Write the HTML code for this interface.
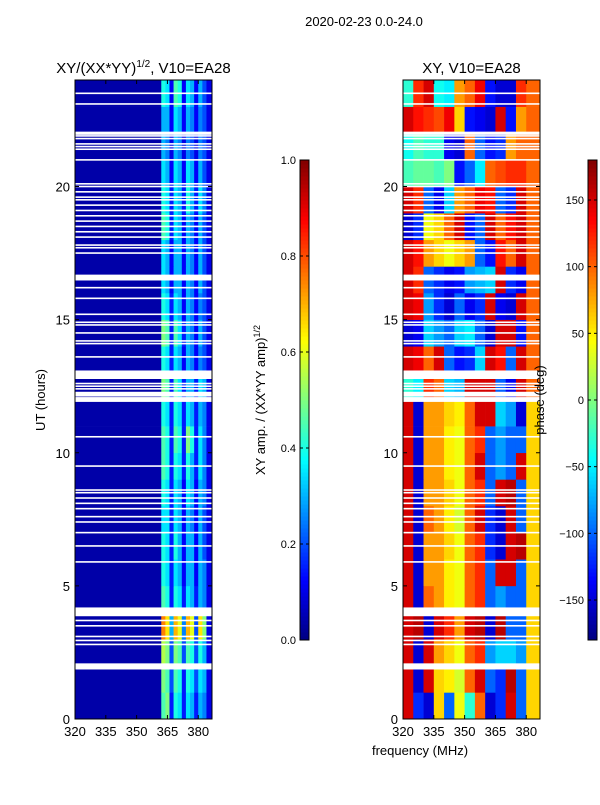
<!DOCTYPE html>
<html><head><meta charset="utf-8"><style>
body{margin:0;background:#fff;}
svg{font-family:"Liberation Sans",sans-serif;}
</style></head><body>
<svg id="fig" width="600" height="800"></svg>
<script>
const ampFreqEdges=[320,362,364,366,368,370,372,374,376,378,380,382,384];
const ampRows=[
[0.04,0.45,0.5,0.15,0.4,0.35,0.15,0.35,0.3,0.15,0.3,0.25,0.1],
[0.04,0.5,0.45,0.2,0.45,0.4,0.15,0.4,0.35,0.2,0.35,0.3,0.1],
[0.04,0.55,0.5,0.2,0.5,0.45,0.2,0.45,0.4,0.2,0.4,0.3,0.1],
[0.04,0.75,0.65,0.3,0.7,0.6,0.25,0.7,0.6,0.2,0.65,0.5,0.1],
[0.04,0.45,0.4,0.15,0.4,0.35,0.15,0.35,0.3,0.15,0.3,0.25,0.1],
[0.04,0.4,0.35,0.15,0.35,0.3,0.12,0.3,0.3,0.12,0.3,0.25,0.1],
[0.04,0.4,0.35,0.15,0.4,0.3,0.12,0.3,0.3,0.12,0.3,0.2,0.1],
[0.04,0.35,0.35,0.15,0.35,0.3,0.12,0.3,0.25,0.12,0.3,0.2,0.1],
[0.04,0.4,0.35,0.15,0.35,0.3,0.12,0.35,0.3,0.12,0.3,0.25,0.1],
[0.04,0.45,0.4,0.15,0.4,0.35,0.15,0.4,0.3,0.15,0.35,0.25,0.1],
[0.04,0.45,0.4,0.15,0.45,0.4,0.15,0.5,0.4,0.15,0.35,0.25,0.1],
[0.04,0.4,0.35,0.15,0.4,0.35,0.15,0.35,0.3,0.15,0.3,0.25,0.1],
[0.04,0.5,0.45,0.15,0.45,0.35,0.15,0.3,0.3,0.15,0.35,0.3,0.1],
[0.04,0.4,0.35,0.15,0.35,0.3,0.12,0.3,0.25,0.12,0.25,0.2,0.1],
[0.04,0.5,0.45,0.15,0.45,0.35,0.15,0.3,0.25,0.12,0.3,0.2,0.1],
[0.04,0.4,0.35,0.15,0.35,0.3,0.12,0.3,0.25,0.12,0.25,0.2,0.1],
[0.04,0.35,0.3,0.12,0.3,0.3,0.12,0.3,0.25,0.12,0.3,0.2,0.1],
[0.04,0.35,0.3,0.12,0.3,0.3,0.12,0.3,0.25,0.12,0.3,0.2,0.1],
[0.04,0.45,0.4,0.15,0.35,0.3,0.12,0.3,0.25,0.12,0.3,0.2,0.1],
[0.04,0.4,0.35,0.15,0.35,0.3,0.15,0.4,0.3,0.15,0.35,0.25,0.1],
[0.04,0.35,0.3,0.12,0.35,0.3,0.12,0.35,0.3,0.12,0.3,0.2,0.1],
[0.04,0.3,0.25,0.1,0.3,0.25,0.1,0.25,0.2,0.1,0.25,0.2,0.1],
[0.04,0.3,0.3,0.12,0.35,0.3,0.12,0.3,0.25,0.12,0.25,0.2,0.1],
[0.04,0.4,0.35,0.12,0.45,0.4,0.12,0.35,0.3,0.12,0.3,0.2,0.1]];
const phaseFreqEdges=[320,325,330,335,340,345,350,355,360,365,370,375,380];
const phaseRows=[
[150,-120,-150,60,-100,40,-30,100,-150,-120,150,-100,60],
[150,-150,150,60,50,30,100,150,-100,-120,160,-100,60],
[150,-150,150,80,60,40,100,120,-80,-60,-60,-80,60],
[150,160,-150,150,120,80,150,160,-150,160,-100,-100,60],
[150,-150,100,80,50,40,100,120,-100,-80,-100,-100,60],
[150,-150,80,80,50,40,100,120,-100,150,150,-100,60],
[150,-150,80,80,60,40,100,120,-120,-150,150,160,60],
[150,-150,100,80,50,30,100,150,-120,-150,150,-100,60],
[150,-150,80,80,60,40,100,120,-100,150,160,-100,60],
[150,-150,80,80,50,40,100,150,-100,-80,-100,150,60],
[150,-150,80,80,50,40,100,120,-100,-80,-100,-100,60],
[150,-150,80,80,60,50,100,150,150,-60,-80,-150,60],
[-30,-50,120,100,-60,-70,150,150,150,-100,-140,150,100],
[150,140,100,150,-100,-130,-120,-60,150,130,-100,150,100],
[-150,-140,-60,-80,-100,-60,-50,-100,-150,150,150,-130,100],
[150,140,-80,-120,-150,-100,-140,-120,150,-140,-150,150,100],
[150,120,-100,-120,-140,-130,-80,-70,-60,150,-120,-140,100],
[150,130,80,60,40,60,80,-100,-130,130,100,150,100],
[-150,-120,40,60,100,150,-130,-100,150,100,130,150,100],
[150,120,-100,-140,-60,80,100,140,130,-100,-120,150,100],
[-20,-10,-10,-20,0,-130,-100,-50,100,110,120,120,100],
[-40,-20,-30,-30,-140,-150,100,-100,-130,-120,80,100,100],
[150,130,120,110,140,60,-130,-140,-150,150,-130,80,100],
[-30,120,150,-40,-50,80,100,140,-130,-150,-150,120,100]];
const flagTimes=[23.5,23.1,22.0,21.9,21.8,21.6,21.5,21.4,21.0,20.1,20.0,19.8,19.6,19.5,19.3,19.1,18.9,18.7,18.5,18.3,18.1,17.8,17.7,17.5,16.6,16.5,16.2,15.8,15.2,14.9,14.8,14.5,14.2,14.1,13.6,13.0,12.9,12.8,12.6,12.5,12.4,12.2,12.0,10.6,9.5,8.6,8.5,8.3,8.1,7.9,7.6,7.4,7.0,6.5,5.9,4.1,3.95,3.7,3.5,3.1,2.95,2.8,2.0,1.95];
const flagWidths=[1,1,2,1,1,1,1,1,1,1,1,1,1,1,1,1,1,1,1,1,1,1,1,1,3,1,1,1,1,1,1,1,1,1,1,3,3,1,1,1,1,3,3,1,1,1,1,1,1,1,1,1,1,1,1,3,3,1,1,1,1,1,3,3];
const ampTicks=[0.0,0.2,0.4,0.6,0.8,1.0];
const phaseTicks=[-150,-100,-50,0,50,100,150];
const xTicks=[320,335,350,365,380];
const yTicks=[0,5,10,15,20];

const NS="http://www.w3.org/2000/svg";
const svg=document.getElementById('fig');
function mk(t,a,p){const e=document.createElementNS(NS,t);for(const k in a)e.setAttribute(k,a[k]);(p||svg).appendChild(e);return e;}
function jet(v){v=Math.max(0,Math.min(1,v));
 const r=Math.max(0,Math.min(1,Math.min(4*v-1.5,-4*v+4.5)));
 const g=Math.max(0,Math.min(1,Math.min(4*v-0.5,-4*v+3.5)));
 const b=Math.max(0,Math.min(1,Math.min(4*v+0.5,-4*v+2.5)));
 return `rgb(${Math.round(r*255)},${Math.round(g*255)},${Math.round(b*255)})`;}
const fMin=320,fMax=386.7,tMax=24;
function panel(x0,name,edges,rows,norm,title){
 const w=137,y0=80,h=639;
 const xs=f=>x0+(f-fMin)/(fMax-fMin)*w;
 const ys=t=>y0+h-(t/tMax)*h;
 const g=mk('g',{});
 
 
 rows.forEach((row,ti)=>{row.forEach((v,fi)=>{
  const fa=edges[fi],fb=fi+1<edges.length?edges[fi+1]:fMax;
  const r=mk('rect',{x:xs(fa),y:ys(ti+1),width:xs(fb)-xs(fa)+0.3,height:ys(ti)-ys(ti+1)+0.3,fill:jet(norm(v))},g);
  
  
 });});
 flagTimes.forEach((t,i)=>{
  const r=mk('rect',{x:x0,y:ys(t)-flagWidths[i]/2*1.6,width:w,height:flagWidths[i]*1.6,fill:'#fff'},g);
  
  
 });
 mk('rect',{x:x0,y:y0,width:w,height:h,fill:'none',stroke:'#000','stroke-width':1});
 xTicks.forEach(f=>{mk('line',{x1:xs(f),x2:xs(f),y1:y0+h,y2:y0+h-4,stroke:'#000'});mk('line',{x1:xs(f),x2:xs(f),y1:y0,y2:y0+4,stroke:'#000'});
  const t=mk('text',{x:xs(f),y:736,'text-anchor':'middle','font-size':13});t.textContent=f;
  });
 yTicks.forEach(v=>{mk('line',{x1:x0,x2:x0+4,y1:ys(v),y2:ys(v),stroke:'#000'});mk('line',{x1:x0+w,x2:x0+w-4,y1:ys(v),y2:ys(v),stroke:'#000'});
  const t=mk('text',{x:x0-5,y:ys(v)+5,'text-anchor':'end','font-size':13});t.textContent=v;
  });
 const tt=mk('text',{x:x0+w/2,y:73,'text-anchor':'middle','font-size':15});tt.innerHTML=title;
 
}
panel(75,'amplitude-heatmap',ampFreqEdges,ampRows,v=>v,'XY/(XX*YY)<tspan font-size="10" dy="-6">1/2</tspan><tspan dy="6">, V10=EA28</tspan>');
panel(403,'phase-heatmap',phaseFreqEdges,phaseRows,v=>(v+180)/360,'XY, V10=EA28');

function cbar(x0,name,ticks,lo,hi){
 const y0=160,h=480,w=9;
 const g=mk('g',{});
 for(let i=0;i<120;i++){mk('rect',{x:x0,y:y0+h-(i+1)*h/120,width:w,height:h/120+0.5,fill:jet((i+0.5)/120)},g);}
 mk('rect',{x:x0,y:y0,width:w,height:h,fill:'none',stroke:'#000'},g);
 ticks.forEach(v=>{const y=y0+h-(v-lo)/(hi-lo)*h;
  mk('line',{x1:x0,x2:x0+3,y1:y,y2:y,stroke:'#000'},g);mk('line',{x1:x0+w,x2:x0+w-3,y1:y,y2:y,stroke:'#000'},g);
  const t=mk('text',{x:x0-4,y:y+4,'text-anchor':'end','font-size':11},g);t.textContent=(lo===0?v.toFixed(1):v).toString().replace('-','\u2212');
  });
}
cbar(300,'amplitude-colorbar',ampTicks,0,1);
cbar(588,'phase-colorbar',phaseTicks,-180,180);
</script>
<svg width="600" height="800" style="position:absolute;left:0;top:0;font-family:'Liberation Sans',sans-serif">
<text x="364" y="26" text-anchor="middle" font-size="13">2020-02-23 0.0-24.0</text>
<text x="420" y="755" text-anchor="middle" font-size="13">frequency (MHz)</text>
<text transform="translate(45,400) rotate(-90)" text-anchor="middle" font-size="13">UT (hours)</text>
<text transform="translate(265,400) rotate(-90)" text-anchor="middle" font-size="13">XY amp. / (XX*YY amp)<tspan font-size="9" dy="-5">1/2</tspan></text>
<text transform="translate(544,400) rotate(-90)" text-anchor="middle" font-size="13">phase (deg)</text>
</svg>
</body></html>
